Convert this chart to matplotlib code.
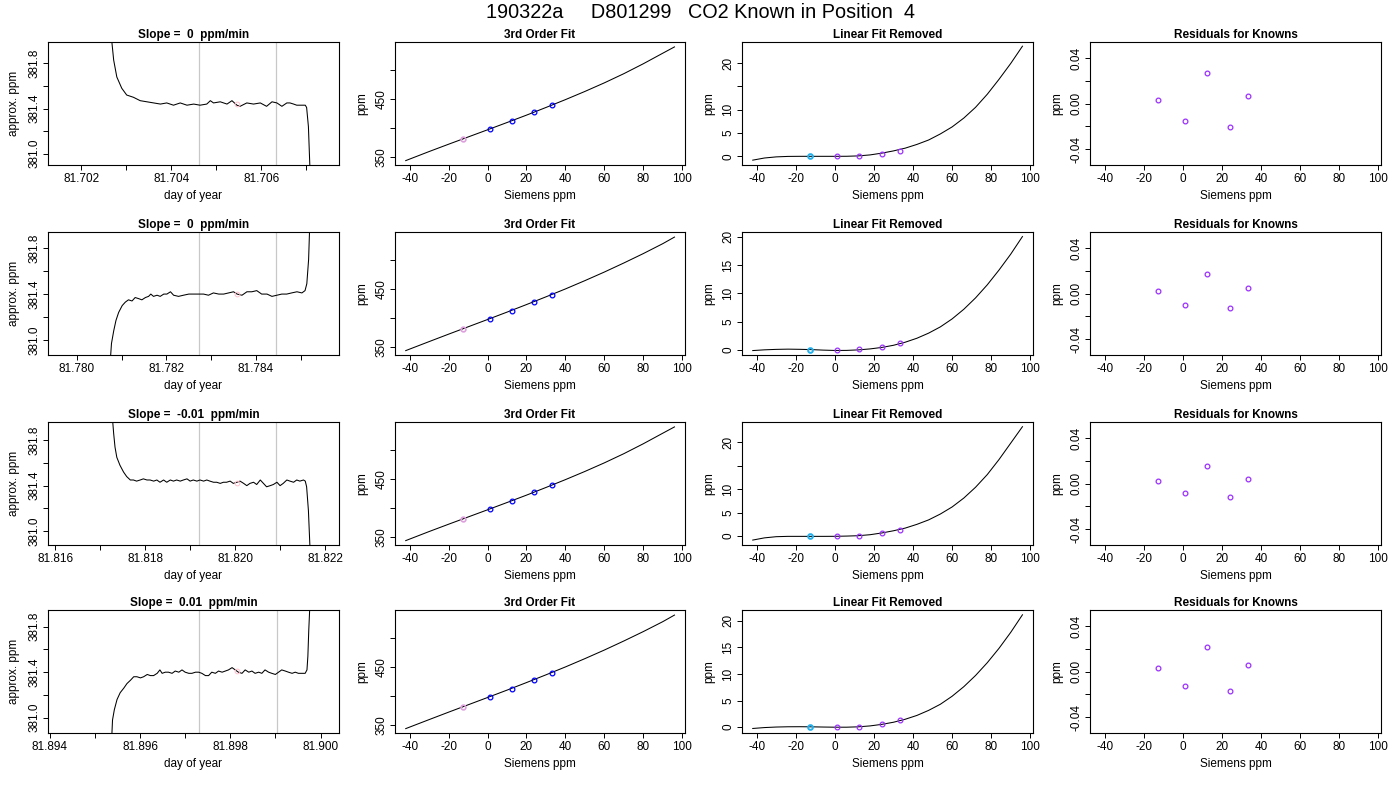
import matplotlib
matplotlib.use("Agg")
import matplotlib.pyplot as plt

plt.rcParams['font.family'] = ['Liberation Sans', 'DejaVu Sans']

# ---- column 1: analyzer trace per run ----
t1 = [81.70262, 81.70268, 81.70272, 81.70279, 81.70290, 81.70301, 81.70316, 81.70331, 81.70346, 81.70361,
      81.70376, 81.70390, 81.70405, 81.70420, 81.70435, 81.70450, 81.70464, 81.70479, 81.70487, 81.70494,
      81.70509, 81.70524, 81.70535, 81.70546, 81.70553, 81.70568, 81.70583, 81.70598, 81.70612, 81.70624,
      81.70635, 81.70646, 81.70657, 81.70664, 81.70672, 81.70679, 81.70687, 81.70698, 81.70701, 81.70705,
      81.70709]
c1 = [382.30, 381.99, 381.83, 381.68, 381.58, 381.52, 381.50, 381.47, 381.46, 381.45,
      381.44, 381.45, 381.43, 381.45, 381.43, 381.44, 381.43, 381.44, 381.47, 381.45,
      381.46, 381.44, 381.47, 381.43, 381.42, 381.45, 381.44, 381.45, 381.42, 381.46,
      381.45, 381.42, 381.45, 381.45, 381.44, 381.43, 381.43, 381.43, 381.41, 381.24,
      380.80]

t2 = [81.78074, 81.78077, 81.78082, 81.78087, 81.78093, 81.78101, 81.78108, 81.78115, 81.78123, 81.78130,
      81.78138, 81.78145, 81.78153, 81.78160, 81.78165, 81.78171, 81.78179, 81.78186, 81.78194, 81.78201,
      81.78209, 81.78216, 81.78227, 81.78238, 81.78250, 81.78261, 81.78272, 81.78283, 81.78294, 81.78305,
      81.78317, 81.78328, 81.78339, 81.78350, 81.78358, 81.78369, 81.78380, 81.78391, 81.78402, 81.78413,
      81.78425, 81.78436, 81.78447, 81.78458, 81.78469, 81.78480, 81.78492, 81.78503, 81.78510, 81.78514,
      81.78518, 81.78520, 81.78521]
c2 = [380.80, 380.97, 381.08, 381.17, 381.24, 381.30, 381.33, 381.35, 381.34, 381.37,
      381.36, 381.35, 381.37, 381.38, 381.40, 381.38, 381.39, 381.38, 381.40, 381.40,
      381.42, 381.39, 381.38, 381.39, 381.40, 381.40, 381.40, 381.40, 381.39, 381.41,
      381.40, 381.40, 381.41, 381.42, 381.40, 381.39, 381.42, 381.42, 381.43, 381.40,
      381.40, 381.38, 381.39, 381.40, 381.40, 381.41, 381.42, 381.41, 381.43, 381.49,
      381.70, 381.94, 382.30]

t3 = [81.81725, 81.81728, 81.81730, 81.81733, 81.81737, 81.81744, 81.81752, 81.81759, 81.81767, 81.81774,
      81.81781, 81.81789, 81.81796, 81.81804, 81.81811, 81.81819, 81.81826, 81.81833, 81.81841, 81.81848,
      81.81856, 81.81863, 81.81870, 81.81878, 81.81885, 81.81893, 81.81900, 81.81907, 81.81915, 81.81922,
      81.81930, 81.81937, 81.81944, 81.81952, 81.81959, 81.81967, 81.81974, 81.81981, 81.81989, 81.81996,
      81.82004, 81.82011, 81.82019, 81.82026, 81.82033, 81.82041, 81.82048, 81.82056, 81.82063, 81.82070,
      81.82078, 81.82085, 81.82093, 81.82100, 81.82107, 81.82115, 81.82122, 81.82130, 81.82137, 81.82144,
      81.82152, 81.82156, 81.82159, 81.82163, 81.82167]
c3 = [382.30, 381.96, 381.86, 381.74, 381.65, 381.58, 381.52, 381.48, 381.45, 381.45,
      381.44, 381.45, 381.46, 381.45, 381.45, 381.44, 381.45, 381.43, 381.45, 381.43,
      381.45, 381.44, 381.45, 381.44, 381.45, 381.46, 381.44, 381.45, 381.44, 381.45,
      381.44, 381.45, 381.44, 381.43, 381.43, 381.42, 381.43, 381.43, 381.44, 381.42,
      381.43, 381.44, 381.42, 381.40, 381.42, 381.43, 381.41, 381.45, 381.42, 381.39,
      381.40, 381.41, 381.43, 381.40, 381.42, 381.45, 381.44, 381.43, 381.45, 381.44,
      381.45, 381.44, 381.39, 381.18, 380.80]

t4 = [81.89537, 81.89539, 81.89543, 81.89549, 81.89556, 81.89564, 81.89571, 81.89579, 81.89586, 81.89593,
      81.89601, 81.89608, 81.89616, 81.89623, 81.89630, 81.89638, 81.89644, 81.89649, 81.89656, 81.89663,
      81.89671, 81.89678, 81.89686, 81.89693, 81.89700, 81.89708, 81.89715, 81.89723, 81.89730, 81.89737,
      81.89745, 81.89752, 81.89759, 81.89767, 81.89774, 81.89782, 81.89789, 81.89796, 81.89804, 81.89811,
      81.89818, 81.89826, 81.89833, 81.89841, 81.89848, 81.89855, 81.89863, 81.89870, 81.89877, 81.89885,
      81.89892, 81.89900, 81.89907, 81.89914, 81.89922, 81.89929, 81.89937, 81.89944, 81.89951, 81.89959,
      81.89966, 81.89970, 81.89972, 81.89974, 81.89976, 81.89977]
c4 = [380.80, 380.98, 381.07, 381.16, 381.22, 381.26, 381.30, 381.33, 381.36, 381.36,
      381.35, 381.36, 381.38, 381.37, 381.37, 381.39, 381.42, 381.39, 381.40, 381.40,
      381.39, 381.41, 381.40, 381.42, 381.40, 381.39, 381.39, 381.40, 381.40, 381.39,
      381.37, 381.37, 381.40, 381.39, 381.41, 381.40, 381.41, 381.42, 381.44, 381.42,
      381.40, 381.39, 381.42, 381.40, 381.41, 381.39, 381.40, 381.39, 381.42, 381.40,
      381.39, 381.38, 381.40, 381.42, 381.41, 381.40, 381.39, 381.40, 381.39, 381.39,
      381.39, 381.42, 381.54, 381.77, 381.95, 382.30]

times = [t1, t2, t3, t4]
traces = [c1, c2, c3, c4]
slopes = ["0", "0", "-0.01", "0.01"]
window_marks = [[81.70462, 81.70634], [81.78273, 81.78446], [81.81919, 81.82092], [81.89731, 81.89903]]
mean_day = [81.70547, 81.78358, 81.82004, 81.89816]
mean_ppm = [381.443, 381.401, 381.425, 381.406]
day_lims = [(81.70126, 81.70773), (81.77935, 81.78586), (81.81584, 81.82231), (81.89396, 81.90041)]
ppm_lims = [(380.90, 381.99), (380.87, 381.94), (380.876, 381.962), (380.866, 381.946)]
day_ticks = [[81.702, 81.703, 81.704, 81.705, 81.706, 81.707],
             [81.780, 81.781, 81.782, 81.783, 81.784, 81.785],
             [81.816, 81.817, 81.818, 81.819, 81.820, 81.821, 81.822],
             [81.894, 81.895, 81.896, 81.897, 81.898, 81.899, 81.900]]

# ---- columns 2-4: calibration fits ----
known_x = [-12.6, 1.1, 12.5, 24.0, 33.1]
known_y = [381.3, 398.2, 412.6, 427.8, 439.4]

fit_x = [-42, -30, -20, -10, 0, 10, 20, 30, 40, 50, 60, 70, 80, 90, 96]
fit_y13 = [343.1, 358.8, 371.5, 384.0, 396.5, 409.1, 421.9, 435.2, 448.8, 463.0, 477.9, 493.8, 511.0, 529.3, 540.2]
fit_y24 = [343.1, 358.7, 371.6, 384.3, 397.0, 409.8, 422.9, 436.3, 450.0, 464.4, 479.3, 495.0, 511.3, 528.5, 539.9]
fit_curves = [fit_y13, fit_y24, fit_y13, fit_y24]

nl_x = [-42, -36, -30, -24, -18, -12, -6, 0, 6, 12, 18, 24, 30, 36, 42, 48, 54, 60, 66, 72, 78, 84, 90, 96]
nl1 = [-0.82, -0.36, -0.12, -0.02, 0.0, 0.0, 0.0, 0.0, 0.01, 0.09, 0.30, 0.68, 1.16, 1.75, 2.55, 3.5,
       4.8, 6.3, 8.2, 10.5, 13.3, 16.5, 19.9, 23.6]
nl2 = [-0.07, 0.06, 0.14, 0.18, 0.15, 0.10, 0.01, -0.05, -0.04, 0.05, 0.22, 0.48, 0.86, 1.40, 2.1, 3.0,
       4.1, 5.5, 7.2, 9.2, 11.5, 14.1, 16.9, 20.0]
nl3 = [-0.85, -0.38, -0.13, -0.06, -0.06, -0.06, -0.06, -0.05, 0.0, 0.08, 0.29, 0.66, 1.13, 1.70, 2.5, 3.45,
       4.7, 6.2, 8.1, 10.4, 13.1, 16.3, 19.8, 23.3]
nl4 = [-0.25, -0.08, 0.02, 0.07, 0.08, 0.06, 0.02, -0.01, -0.01, 0.06, 0.23, 0.52, 0.92, 1.48, 2.2, 3.15,
       4.3, 5.8, 7.6, 9.7, 12.1, 14.8, 17.8, 21.1]
nonlinear = [nl1, nl2, nl3, nl4]
nl_points = [[0.02, 0.0, 0.07, 0.57, 1.21],
             [0.05, 0.0, 0.15, 0.60, 1.30],
             [0.02, 0.0, 0.08, 0.58, 1.25],
             [0.04, 0.0, 0.12, 0.62, 1.30]]
nl_lims = [(-1.86, 24.5), (-0.85, 20.8), (-1.9, 24.3), (-1.1, 22.0)]

residuals = [[0.0032, -0.0152, 0.0264, -0.0202, 0.0064],
             [0.0020, -0.0099, 0.0167, -0.0129, 0.0044],
             [0.0021, -0.0085, 0.0150, -0.0115, 0.0038],
             [0.0027, -0.0130, 0.0219, -0.0172, 0.0053]]

siemens_ticks = [-40, -20, 0, 20, 40, 60, 80, 100]

FS = 8.5
MS = 3.4
PURPLE = '#9b30ff'
W, H = 1400, 800
lefts = [48, 395, 742, 1090]
widths = [291, 290, 291, 291]
tops = [42, 232, 422, 610]
panel_h = 123


def r_style(ax, xticks, xlabels, yticks, ylabels):
    ax.set_xticks(xticks)
    ax.set_xticklabels(xlabels)
    ax.set_yticks(yticks)
    ax.set_yticklabels(ylabels, rotation=90, va='center')
    ax.tick_params(direction='out', length=3.6, width=0.7, labelsize=FS, pad=2, colors='black')
    for s in ax.spines.values():
        s.set_linewidth(0.8)


fig = plt.figure(figsize=(14, 8), dpi=100)
fig.text(0.5, 1 - 13 / H, "190322a     D801299   CO2 Known in Position  4",
         ha='center', va='center', fontsize=14.3)

for r in range(4):
    axs = []
    for c in range(4):
        ax = fig.add_axes([lefts[c] / W, 1 - (tops[r] + panel_h) / H, widths[c] / W, panel_h / H])
        axs.append(ax)

    # trace
    ax = axs[0]
    ax.plot(times[r], traces[r], color='black', lw=0.75)
    for d in window_marks[r]:
        ax.axvline(d, color='#c8c8c8', lw=0.9, zorder=0)
    ax.plot(mean_day[r], mean_ppm[r], 'o', mfc='none', mec='pink', ms=MS, mew=0.7)
    ax.set_xlim(day_lims[r])
    ax.set_ylim(ppm_lims[r])
    dt = day_ticks[r]
    r_style(ax, dt, ["%.3f" % d if i % 2 == 0 else "" for i, d in enumerate(dt)],
            [381.0, 381.2, 381.4, 381.6, 381.8], ["381.0", "", "381.4", "", "381.8"])
    ax.set_title("Slope =  %s  ppm/min" % slopes[r], fontsize=FS, fontweight='bold', pad=3)
    ax.set_xlabel("day of year", fontsize=FS, labelpad=4)
    ax.set_ylabel("approx. ppm", fontsize=FS, labelpad=6)

    # 3rd order fit
    ax = axs[1]
    ax.plot(fit_x, fit_curves[r], color='black', lw=0.75)
    ax.plot(known_x[1:], known_y[1:], 'o', mfc='none', mec='blue', ms=MS, mew=0.9)
    ax.plot(known_x[0], known_y[0], 'o', mfc='none', mec='plum', ms=MS, mew=1.2)
    ax.set_xlim(-47.5, 101.4)
    ax.set_ylim(335.5, 548.7)
    r_style(ax, siemens_ticks, [str(v) for v in siemens_ticks],
            [350, 400, 450, 500], ["350", "", "450", ""])
    ax.set_title("3rd Order Fit", fontsize=FS, fontweight='bold', pad=3)
    ax.set_xlabel("Siemens ppm", fontsize=FS, labelpad=4)
    ax.set_ylabel("ppm", fontsize=FS, labelpad=5)

    # linear fit removed
    ax = axs[2]
    ax.plot(nl_x, nonlinear[r], color='black', lw=0.75)
    ax.plot(known_x[1:], nl_points[r][1:], 'o', mfc='none', mec=PURPLE, ms=MS, mew=0.9)
    ax.plot(known_x[0], nl_points[r][0], 'o', mfc='none', mec='#22b0ee', ms=MS, mew=1.4)
    ax.set_xlim(-47.5, 101.4)
    ax.set_ylim(nl_lims[r])
    if r in (0, 2):
        nl_labels = ["0", "5", "10", "", "20"]
    else:
        nl_labels = ["0", "5", "10", "15", "20"]
    r_style(ax, siemens_ticks, [str(v) for v in siemens_ticks], [0, 5, 10, 15, 20], nl_labels)
    ax.set_title("Linear Fit Removed", fontsize=FS, fontweight='bold', pad=3)
    ax.set_xlabel("Siemens ppm", fontsize=FS, labelpad=4)
    ax.set_ylabel("ppm", fontsize=FS, labelpad=5)

    # residuals
    ax = axs[3]
    ax.plot(known_x, residuals[r], 'o', mfc='none', mec=PURPLE, ms=MS, mew=0.9)
    ax.set_xlim(-47.5, 101.4)
    ax.set_ylim(-0.054, 0.054)
    r_style(ax, siemens_ticks, [str(v) for v in siemens_ticks],
            [-0.04, -0.02, 0.0, 0.02, 0.04], ["-0.04", "", "0.00", "", "0.04"])
    ax.set_title("Residuals for Knowns", fontsize=FS, fontweight='bold', pad=3)
    ax.set_xlabel("Siemens ppm", fontsize=FS, labelpad=4)
    ax.set_ylabel("ppm", fontsize=FS, labelpad=5)

fig.savefig("out.png", dpi=100)
